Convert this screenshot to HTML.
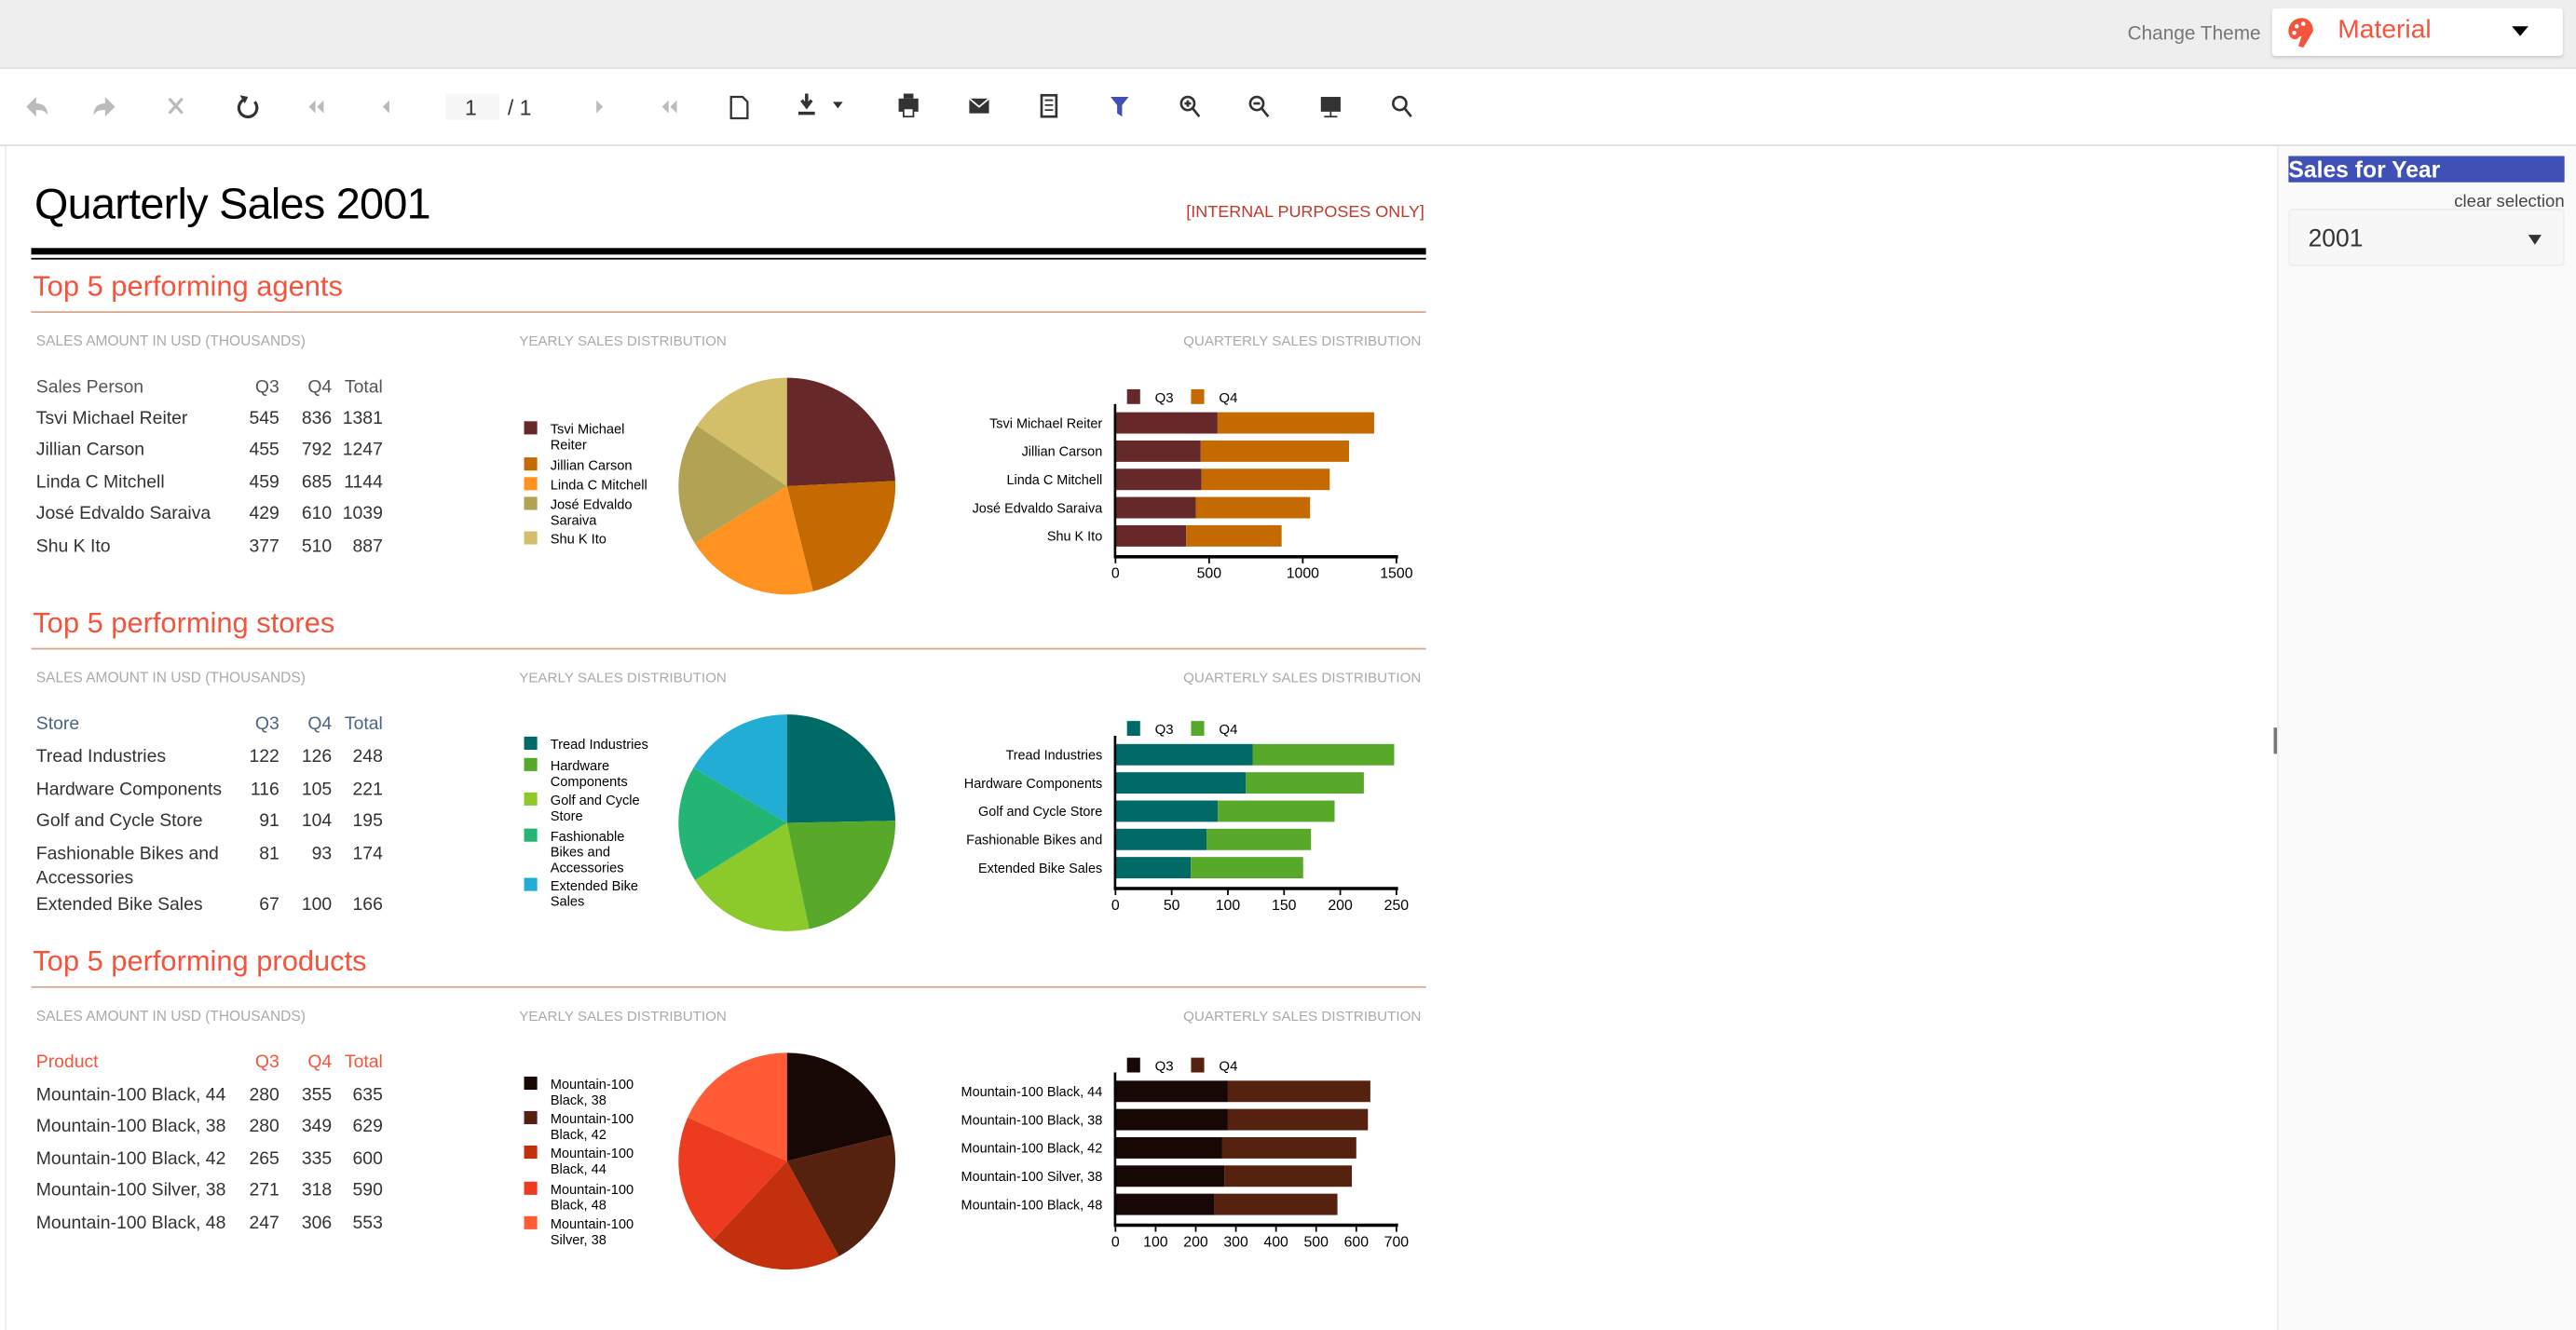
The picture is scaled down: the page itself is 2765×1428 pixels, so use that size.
<!DOCTYPE html>
<html><head><meta charset="utf-8">
<style>
html,body{margin:0;padding:0;width:2765px;height:1428px;overflow:hidden;background:#fff;}
#s{position:absolute;left:0;top:0;width:1568px;height:810px;transform:scale(1.76339);transform-origin:0 0;font-family:"Liberation Sans",sans-serif;}
.a{position:absolute;white-space:nowrap;}
</style></head><body>
<div id="s">
<div class="a" style="left:0;top:0;width:1568px;height:41px;background:#eee;border-bottom:1px solid #e2e2e2"></div>
<div class="a" style="left:1295px;top:13px;font-size:11.8px;color:#777">Change Theme</div>
<div class="a" style="left:1383px;top:5px;width:177px;height:29px;background:#fff;border-radius:2px;box-shadow:0 1px 2px rgba(0,0,0,.15)"></div>
<svg class="a" style="left:1392px;top:10px" width="20" height="20" viewBox="0 0 20 20"><path d="M9 1C4 1 1 5 1 9c0 3 2 5 4 5 2 0 2-2 4-2l-2 6 3 1 6-10c0-5-3-8-7-8z" fill="#f4533c"/><circle cx="6" cy="6" r="1.3" fill="#fff"/><circle cx="10" cy="4.5" r="1.3" fill="#fff"/><circle cx="4.5" cy="10" r="1.3" fill="#fff"/></svg>
<div class="a" style="left:1423px;top:10px;font-size:16px;color:#f4533c">Material</div>
<div class="a" style="left:1529px;top:16px;width:0;height:0;border-left:5px solid transparent;border-right:5px solid transparent;border-top:6px solid #000"></div>
<div class="a" style="left:0;top:88px;width:1568px;height:1px;background:#ddd"></div>
<svg class="a" style="left:0;top:50px" width="880" height="30" font-family="Liberation Sans" >
<g fill="#bbb"><path d="M16 15l6-6v4c5 0 7 3 7 7-2-3-4-3-7-3v4z"/><path d="M70 15l-6-6v4c-5 0-7 3-7 7 2-3 4-3 7-3v4z"/><path d="M103 10l8 9M111 10l-8 9" stroke="#bbb" stroke-width="1.8"/>
<path d="M193 15l4-4v8zM188 15l4-4v8z"/><path d="M233 15l4-4v8z"/><path d="M367 15l-4-4v8z"/><path d="M403 15l4-4v8zM408 15l4-4v8z"/></g>
<path d="M155 12a5.5 5.5 0 1 1-6 -1.5" fill="none" stroke="#333" stroke-width="1.8"/><path d="M146 8l5 1-2 4z" fill="#333"/>
<rect x="271" y="7" width="33" height="16" fill="#f7f7f7"/><text x="283" y="20" font-size="13" fill="#333">1</text><text x="309" y="20" font-size="13" fill="#333">/ 1</text>
<path d="M445 9h7l3 3v10h-10z" fill="none" stroke="#333" stroke-width="1.3"/>
<path d="M491 7v7M488 11l3 4 3-4M486 19h10" stroke="#333" stroke-width="2" fill="none"/><path d="M507 12h6l-3 4z" fill="#333"/>
<rect x="547" y="10" width="12" height="8" fill="#333"/><rect x="550" y="7" width="6" height="3" fill="#333"/><rect x="550" y="16" width="6" height="5" fill="#fff" stroke="#333"/>
<rect x="590" y="10" width="12" height="9" fill="#333"/><path d="M590 10l6 5 6-5" stroke="#fff" fill="none"/>
<rect x="634" y="8" width="9" height="13" fill="none" stroke="#333" stroke-width="1.5"/><path d="M636 11h5M636 14h5M636 17h5" stroke="#333"/>
<path d="M676 9h11l-4 5v7l-3-2v-5z" fill="#3f51b5"/>
<g stroke="#333" stroke-width="1.5" fill="none"><circle cx="723" cy="13" r="4"/><path d="M726 16l4 5M721 13h4M723 11v4"/><circle cx="765" cy="13" r="4"/><path d="M768 16l4 5M763 13h4"/><circle cx="852" cy="13" r="4"/><path d="M855 16l4 5"/></g>
<rect x="804" y="9" width="12" height="9" fill="#333"/><path d="M810 18v3M806 21h8" stroke="#333"/>
</svg>
<div class="a" style="left:1386px;top:89px;width:182px;height:721px;background:#fafafa;border-left:1px solid #eee"></div>
<div class="a" style="left:1393px;top:95px;width:168px;height:16px;background:#3f51b5;color:#fff;font-weight:bold;font-size:14px;line-height:16px">Sales for Year</div>
<div class="a" style="left:1480px;top:117px;width:81px;text-align:right;font-size:10.5px;color:#444">clear selection</div>
<div class="a" style="left:1393px;top:127px;width:166px;height:33px;background:#f7f7f7;border:1px solid #eee;border-radius:2px"></div>
<div class="a" style="left:1405px;top:137px;font-size:15px;color:#333">2001</div>
<div class="a" style="left:1539px;top:143px;width:0;height:0;border-left:4px solid transparent;border-right:4px solid transparent;border-top:6px solid #333"></div>
<div class="a" style="left:1384px;top:443px;width:2px;height:16px;background:#777"></div>
<div class="a" style="left:3px;top:89px;width:1px;height:721px;background:#eee"></div>
<div class="a" style="left:21px;top:109px;font-size:26.5px;color:#000;letter-spacing:-0.4px">Quarterly Sales 2001</div>
<div class="a" style="left:700px;top:124px;width:167px;text-align:right;font-size:10.2px;color:#c0392b">[INTERNAL PURPOSES ONLY]</div>
<div class="a" style="left:19px;top:151px;width:849px;height:4px;background:#000"></div>
<div class="a" style="left:19px;top:157px;width:849px;height:1px;background:#000"></div>
<svg id="g" class="a" style="left:0;top:0" width="1568" height="810" font-family="Liberation Sans"></svg>
</div>
<script>
var g=document.getElementById('g'),h='';
function T(x,y,s,sz,c,anc,extra){h+='<text x="'+x+'" y="'+y+'" font-size="'+sz+'" fill="'+c+'"'+(anc?' text-anchor="'+anc+'"':'')+(extra||'')+'>'+s+'</text>';}
function R(x,y,w,hh,c){h+='<rect x="'+x+'" y="'+y+'" width="'+w+'" height="'+hh+'" fill="'+c+'"/>';}
function sec(o,title,hdr,hc,rows,leg,vals,cols,bl,max,ticks,ax){
 T(20,o+180,title,17.5,'#f4533c');
 R(19,o+189.5,849,1,'#d9a58c');
 T(22,o+210.5,'SALES AMOUNT IN USD (THOUSANDS)',8.8,'#aaa');
 T(316,o+210.5,'YEARLY SALES DISTRIBUTION',8.6,'#aaa');
 T(865,o+210.5,'QUARTERLY SALES DISTRIBUTION',8.6,'#aaa','end');
 var fs=11;
 T(22,o+239,hdr,fs,hc);T(170,o+239,'Q3',fs,hc,'end');T(202,o+239,'Q4',fs,hc,'end');T(233,o+239,'Total',fs,hc,'end');
 rows.forEach(function(r){var y=o+r[4];T(22,y,r[0],fs,'#333');T(170,y,r[1],fs,'#333','end');T(202,y,r[2],fs,'#333','end');T(233,y,r[3],fs,'#333','end');if(r[5])T(22,y+15,r[5],fs,'#333');});
 leg.forEach(function(l,i){var y=o+l[1];R(319,y-4.5,8,8,cols[i]);l[0].forEach(function(t,j){T(335,y+3+j*9.5,t,8.3,'#000');});});
 var tot=vals.reduce(function(a,b){return a+b},0),a=-Math.PI/2,cx=479,cy=o+296,r=66;
 vals.forEach(function(v,i){var b=a+v/tot*2*Math.PI;var x1=cx+r*Math.cos(a),y1=cy+r*Math.sin(a),x2=cx+r*Math.cos(b),y2=cy+r*Math.sin(b);
 h+='<path d="M'+cx+' '+cy+'L'+x1+' '+y1+'A'+r+' '+r+' 0 '+(b-a>Math.PI?1:0)+' 1 '+x2+' '+y2+'Z" fill="'+cols[i]+'"/>';a=b;});
 var x0=679,x1=850,sc=(x1-x0)/max;
 R(686,o+ax-102,8,9,bl[0]);T(703,o+ax-94,'Q3',8.5,'#000');R(725,o+ax-102,8,9,bl[1]);T(742,o+ax-94,'Q4',8.5,'#000');
 rows.forEach(function(rw,i){var y=o+ax-88+i*17.2;var q3=+rw[1],q4=+rw[2];R(x0,y,q3*sc,13,bl[0]);R(x0+q3*sc,y,q4*sc,13,bl[1]);
 T(671,y+9.5,rw[6]||((rw[0]+' '+(rw[5]||'')).trim()),8.2,'#000','end');});
 R(x0-1,o+ax-93,1.5,93,'#000');R(x0-1,o+ax-1,x1-x0+2,2,'#000');
 ticks.forEach(function(t){var x=x0+t*sc;R(x-0.5,o+ax,1,4,'#000');T(x,o+ax+13,t,9,'#000','middle');});
}
sec(0,'Top 5 performing agents','Sales Person','#555',
[['Tsvi Michael Reiter','545','836','1381',258],['Jillian  Carson','455','792','1247',277],['Linda C Mitchell','459','685','1144',297],['José Edvaldo Saraiva','429','610','1039',316],['Shu K Ito','377','510','887',336]],
[[['Tsvi Michael','Reiter'],261],[['Jillian  Carson'],283],[['Linda C Mitchell'],295],[['José Edvaldo','Saraiva'],307],[['Shu K Ito'],328]],
[1381,1247,1144,1039,887],['#67282a','#c46a00','#ff9220','#b2a253','#d3bf69'],['#67282a','#c46a00'],1500,[0,500,1000,1500],339);
sec(205,'Top 5 performing stores','Store','#4b6584',
[['Tread Industries','122','126','248',259],['Hardware Components','116','105','221',279],['Golf and Cycle Store','91','104','195',298],['Fashionable Bikes and','81','93','174',318,'Accessories','Fashionable Bikes and'],['Extended Bike Sales','67','100','166',349]],
[[['Tread Industries'],248],[['Hardware','Components'],261],[['Golf and Cycle','Store'],282],[['Fashionable','Bikes and','Accessories'],304],[['Extended Bike','Sales'],334]],
[248,221,195,174,166],['#006a66','#58a82a','#8cc92b','#22b573','#22aed4'],['#006a66','#58a82a'],250,[0,50,100,150,200,250],336);
sec(411,'Top 5 performing products','Product','#f4533c',
[['Mountain-100 Black, 44','280','355','635',259],['Mountain-100 Black, 38','280','349','629',278],['Mountain-100 Black, 42','265','335','600',298],['Mountain-100 Silver, 38','271','318','590',317],['Mountain-100 Black, 48','247','306','553',337]],
[[['Mountain-100','Black, 38'],249],[['Mountain-100','Black, 42'],270],[['Mountain-100','Black, 44'],291],[['Mountain-100','Black, 48'],313],[['Mountain-100','Silver, 38'],334]],
[635,629,600,590,553],['#180805','#55220f','#c3300d','#ec3b1e','#ff5b37'],['#180805','#55220f'],700,[0,100,200,300,400,500,600,700],335);
g.innerHTML=h;
</script>
</body></html>
